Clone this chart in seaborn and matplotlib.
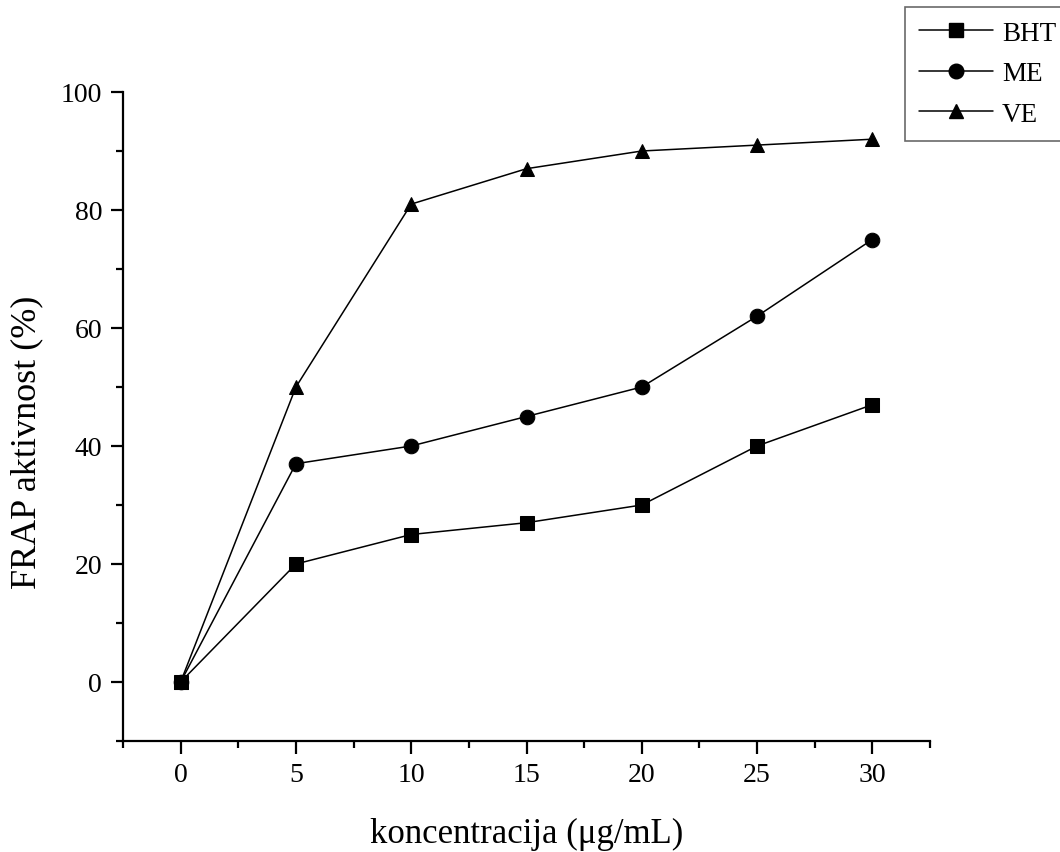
import matplotlib
matplotlib.use("Agg")
import matplotlib.pyplot as plt
import seaborn as sns
import pandas as pd
from matplotlib.ticker import MultipleLocator
from matplotlib.lines import Line2D

concentrations = [0, 5, 10, 15, 20, 25, 30]
bht = [0, 20, 25, 27, 30, 40, 47]
me = [0, 37, 40, 45, 50, 62, 75]
ve = [0, 50, 81, 87, 90, 91, 92]
series_names = ["BHT", "ME", "VE"]
series_markers = ["s", "o", "^"]

sns.set_style("ticks", {"axes.edgecolor": "black", "text.color": "black",
                        "axes.labelcolor": "black", "xtick.color": "black",
                        "ytick.color": "black"})
plt.rcParams['font.family'] = ['Liberation Serif', 'DejaVu Serif']

df = pd.DataFrame({
    "x": concentrations * 3,
    "y": bht + me + ve,
    "s": [n for n in series_names for _ in concentrations],
})

fig = plt.figure(figsize=(10.6, 8.53), dpi=100)
ax = fig.add_axes([123/1060, 1 - 742/853, (930-123)/1060, (742-93)/853])

sns.lineplot(data=df, x="x", y="y", hue="s", style="s",
             palette={n: "black" for n in series_names},
             markers=dict(zip(series_names, series_markers)),
             dashes=False, markersize=10.5, linewidth=1.1,
             markeredgecolor="black", ax=ax, legend=False)

ax.set_xlim(-2.5, 32.5)
ax.set_ylim(-10, 100)
ax.xaxis.set_major_locator(MultipleLocator(5))
ax.xaxis.set_minor_locator(MultipleLocator(2.5))
ax.yaxis.set_major_locator(MultipleLocator(20))
ax.yaxis.set_minor_locator(MultipleLocator(10))
for side in ["top", "right"]:
    ax.spines[side].set_visible(False)
for side in ["left", "bottom"]:
    ax.spines[side].set_linewidth(1.6)
    ax.spines[side].set_color("black")
ax.tick_params(which="major", direction="out", length=9, width=1.6, labelsize=20, pad=6, colors="black")
ax.tick_params(which="minor", direction="out", length=5, width=1.6, colors="black")
ax.set_xlabel("koncentracija (μg/mL)", fontsize=25, labelpad=22, color="black")
ax.set_ylabel("FRAP aktivnost (%)", fontsize=26, color="black")
ax.yaxis.set_label_coords(-0.099, 0.461)

handles = [Line2D([], [], color="black", marker=m, markersize=10.5, linewidth=1.1)
           for m in series_markers]
leg = fig.legend(handles, series_names, loc="upper left",
                 bbox_to_anchor=(905/1060, 1 - 8/853), fontsize=19.5,
                 frameon=True, fancybox=False, handlelength=2.75,
                 handletextpad=0.33, labelspacing=0.58, borderpad=0.5,
                 borderaxespad=0, edgecolor="#444444")
leg.get_frame().set_linewidth(1.2)
for t in leg.get_texts():
    t.set_color("black")

fig.savefig("out.png", dpi=100)
